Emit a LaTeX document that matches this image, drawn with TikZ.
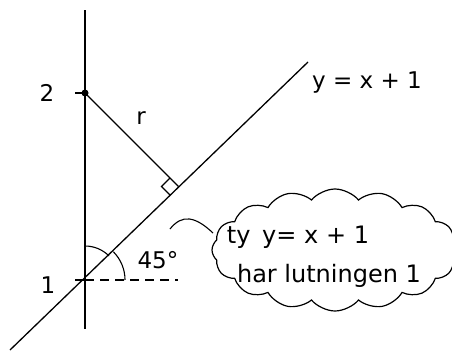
\documentclass[tikz,border=0pt]{standalone}
\usepackage{fontspec}
\setmainfont{DejaVu Sans}
\usetikzlibrary{calc,shapes.symbols}
\begin{document}
\begin{tikzpicture}[x=1pt,y=-1pt,
  axisline/.style={line width=1.3pt,black},
  lbl/.style={font=\fontsize{23}{23}\selectfont,inner sep=0pt},
  btext/.style={font=\fontsize{24}{24}\selectfont,inner sep=0pt},
  thought/.style={cloud,draw,line width=1.2pt,cloud puffs=16,cloud puff arc=100,aspect=2.1,minimum width=246pt,minimum height=122pt,inner sep=0pt}]
\useasboundingbox (0,0) rectangle (452,351);
\coordinate (atop) at (85,10);
\coordinate (abot) at (85,329);
\coordinate (P2) at (85,93);
\coordinate (P1) at (85,280);
\coordinate (lbeg) at (10,350);
\coordinate (lend) at (308,62);
\coordinate (F) at (178.5,186.5);
% axis
\draw[axisline] (atop) -- (abot);
% line y=x+1
\draw[axisline] (lbeg) -- (lend);
% ticks
\draw[axisline] (P2) -- ++(-10,0);
\draw[axisline] (P1) -- ++(-10,0);
% radius
\draw[axisline] (P2) -- (F);
\fill (P2) circle (3.5);
% right-angle marker
\draw[line width=1.1pt] ($(F)+(-8.5,8.5)$) -- ($(F)+(-17,0)$) -- ($(F)+(-8.5,-8.5)$);
% dashed horizontal
\draw[axisline,dash pattern=on 9pt off 6pt] (P1) -- (178,280);
% angle arcs
\draw[line width=1.1pt] ($(P1)+(0,-34)$) arc[start angle=-90,end angle=-45,radius=34];
\draw[line width=1.1pt] ($(P1)+(28.3,-28.3)$) arc[start angle=-45,end angle=0,radius=40];
% labels
\node[lbl] (n2) at (47,93) {2};
\node[lbl] (n1) at (48,285) {1};
\node[lbl] (r) at (141,118) {r};
\node[lbl] (ang) at (158,260) {45°};
\node[lbl] (eq) at (367,83) {y = x + 1};
% thought bubble
\node[thought] (cl) at (335,250) {};
\node[btext] (t1) at (298,237) {ty\, y= x + 1};
\node[btext] (t2) at (329,276) {har lutningen 1};
\coordinate (tailstart) at (170,229);
\draw[line width=1.1pt] (tailstart) .. controls (182,214) and (195,216) .. (213,233);
\end{tikzpicture}
\end{document}
